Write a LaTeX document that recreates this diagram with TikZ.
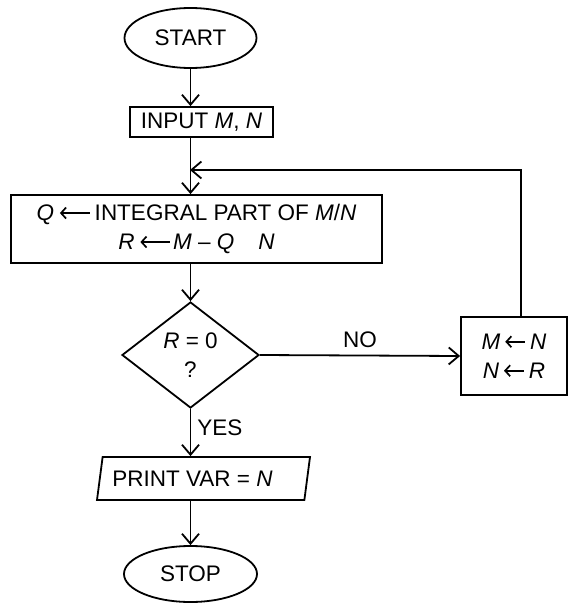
\documentclass[tikz,border=0pt]{standalone}
\usepackage{fontspec}
\setmainfont{Liberation Sans}
\usetikzlibrary{shapes.geometric,arrows.meta}
\newcommand{\tarr}[1]{\tikz[baseline=-7.5pt, x=1pt, y=1pt]\draw[line width=1.7pt, {Straight Barb[length=5pt,width=11pt]}-] (0,0) -- (#1,0);}
\begin{document}
\begin{tikzpicture}[x=1pt,y=-1pt,
  every node/.style={font=\fontsize{22.5}{29}\selectfont, line width=1.8pt},
  box/.style={draw, rectangle, inner sep=0pt, align=center},
  term/.style={draw, ellipse, inner sep=0pt},
  dec/.style={draw, diamond, inner sep=0pt, align=center},
  para/.style={draw, trapezium, trapezium left angle=70, trapezium right angle=110, trapezium stretches body, inner sep=0pt},
  lbl/.style={inner sep=0pt},
  flow/.style={line width=1.8pt, -{Straight Barb[length=10pt,width=17pt]}},
  plain/.style={line width=1.8pt}
]
\useasboundingbox (0,0) rectangle (568,604);

\node[term, minimum width=132pt, minimum height=60pt] (start) at (190.5,38) {START};
\node[box, minimum width=143pt, minimum height=30pt] (input) at (201.5,122) {INPUT \textit{M}, \textit{N}};
\coordinate (loopin) at (190,170);
\node[box, minimum width=371pt, minimum height=68pt] (proc) at (196.5,229)
  {\textit{Q}\hspace{5pt}\tarr{30}\hspace{4pt}INTEGRAL PART OF \textit{M}/\textit{N}\\
   \textit{R}\hspace{5pt}\tarr{30}\hspace{2pt}\textit{M} – \textit{Q}\hspace{24pt}\textit{N}};
\node[dec, minimum width=137pt, minimum height=106pt] (dec) at (190.5,355) {\textit{R} = 0\\?};
\node[box, minimum width=106pt, minimum height=78pt] (swap) at (514,356)
  {\textit{M}\hspace{4pt}\tarr{20}\hspace{4pt}\textit{N}\\\textit{N}\hspace{4pt}\tarr{20}\hspace{4pt}\textit{R}};
\node[para, minimum width=213pt, minimum height=43pt] (print) at (203.5,478.5) {PRINT VAR = \textit{N}\hspace*{22pt}};
\node[term, minimum width=133pt, minimum height=56pt] (stop) at (190.5,574) {STOP};
\coordinate (loopcorner) at (521,170);

\draw[flow] (start.south) -- (start.south |- input.north);
\draw[flow] (start.south |- input.south) -- (start.south |- proc.north);
\draw[flow] (proc.south -| dec.north) -- (dec.north);
\draw[flow] (dec.east) -- node[lbl, above=7pt] {NO} (swap.west);
\draw[flow] (loopcorner |- swap.north) -- (loopcorner) -- (loopin);
\draw[flow] (dec.south) -- node[lbl, right=6pt, pos=0.4] {YES} (dec.south |- print.north);
\draw[flow] (dec.south |- print.south) -- (stop.north);
\end{tikzpicture}
\end{document}
